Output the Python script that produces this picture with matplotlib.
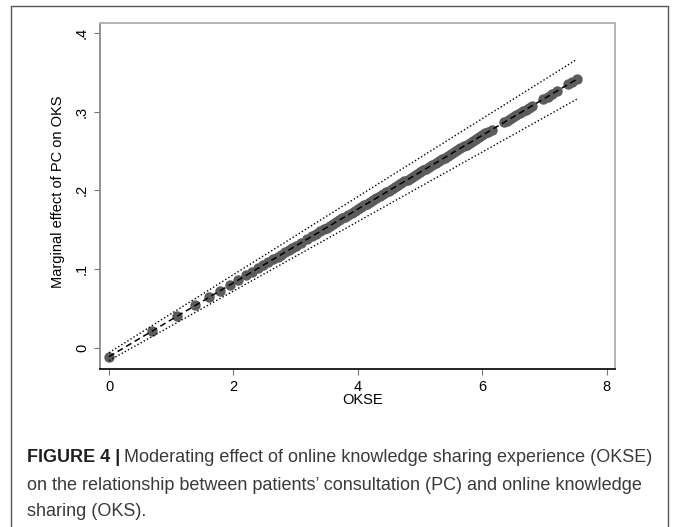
import numpy as np
import matplotlib
matplotlib.use('Agg')
import matplotlib.pyplot as plt
from matplotlib.patches import Rectangle

# OKSE values where the margins were evaluated
okse = [0.00, 0.69, 1.10, 1.39, 1.61, 1.79, 1.95, 2.08, 2.20, 2.30,
        2.40, 2.48, 2.56, 2.64, 2.71, 2.77, 2.83, 2.89, 2.94, 3.00,
        3.09, 3.18, 3.26, 3.33,
        3.40, 3.45, 3.50, 3.55, 3.60, 3.65, 3.70, 3.75, 3.80, 3.85,
        3.90, 3.95, 4.00, 4.05, 4.10, 4.15, 4.20, 4.25, 4.30, 4.35,
        4.40, 4.45, 4.50, 4.55, 4.60, 4.65, 4.70, 4.75, 4.80, 4.85,
        4.90, 4.95, 5.00, 5.05, 5.10, 5.15, 5.20, 5.25, 5.30, 5.35,
        5.40, 5.45, 5.50, 5.55, 5.60, 5.65, 5.70, 5.75, 5.80, 5.85,
        5.90, 5.95, 6.00, 6.05, 6.10, 6.15,
        6.35, 6.40, 6.45, 6.50, 6.55, 6.60, 6.65, 6.70, 6.75, 6.80,
        6.98, 7.05, 7.12, 7.20, 7.38, 7.45, 7.52]
# marginal effect of PC on OKS
margin = [-0.0110, 0.0213, 0.0405, 0.0541, 0.0643, 0.0728, 0.0803, 0.0863, 0.0920, 0.0966,
          0.1013, 0.1051, 0.1088, 0.1126, 0.1158, 0.1186, 0.1214, 0.1243, 0.1266, 0.1294,
          0.1336, 0.1378, 0.1416, 0.1448,
          0.1481, 0.1505, 0.1528, 0.1552, 0.1575, 0.1599, 0.1622, 0.1645, 0.1668, 0.1692,
          0.1715, 0.1739, 0.1762, 0.1786, 0.1809, 0.1833, 0.1856, 0.1879, 0.1902, 0.1926,
          0.1949, 0.1973, 0.1996, 0.2020, 0.2043, 0.2067, 0.2090, 0.2113, 0.2136, 0.2160,
          0.2183, 0.2207, 0.2230, 0.2254, 0.2277, 0.2301, 0.2324, 0.2347, 0.2370, 0.2394,
          0.2417, 0.2441, 0.2464, 0.2488, 0.2511, 0.2535, 0.2558, 0.2581, 0.2604, 0.2628,
          0.2651, 0.2675, 0.2698, 0.2722, 0.2745, 0.2768,
          0.2862, 0.2886, 0.2909, 0.2932, 0.2955, 0.2979, 0.3002, 0.3026, 0.3049, 0.3072,
          0.3157, 0.3189, 0.3222, 0.3260, 0.3344, 0.3377, 0.3409]
ci_upper = [-0.0060, 0.0282, 0.0485, 0.0629, 0.0736, 0.0826, 0.0906, 0.0969, 0.1029, 0.1078,
            0.1128, 0.1168, 0.1207, 0.1247, 0.1281, 0.1311, 0.1340, 0.1371, 0.1395, 0.1425,
            0.1469, 0.1514, 0.1554, 0.1588,
            0.1623, 0.1648, 0.1673, 0.1698, 0.1722, 0.1747, 0.1772, 0.1797, 0.1821, 0.1846,
            0.1870, 0.1895, 0.1920, 0.1945, 0.1970, 0.1995, 0.2019, 0.2044, 0.2068, 0.2093,
            0.2118, 0.2143, 0.2168, 0.2193, 0.2217, 0.2242, 0.2267, 0.2292, 0.2316, 0.2341,
            0.2365, 0.2390, 0.2415, 0.2440, 0.2465, 0.2490, 0.2514, 0.2539, 0.2563, 0.2588,
            0.2613, 0.2638, 0.2663, 0.2688, 0.2712, 0.2737, 0.2762, 0.2787, 0.2811, 0.2836,
            0.2860, 0.2885, 0.2910, 0.2935, 0.2960, 0.2984,
            0.3083, 0.3108, 0.3133, 0.3158, 0.3182, 0.3207, 0.3232, 0.3257, 0.3281, 0.3306,
            0.3395, 0.3429, 0.3464, 0.3504, 0.3593, 0.3628, 0.3662]
ci_lower = [-0.0160, 0.0144, 0.0325, 0.0453, 0.0550, 0.0630, 0.0700, 0.0757, 0.0811, 0.0854,
            0.0898, 0.0934, 0.0969, 0.1005, 0.1035, 0.1061, 0.1088, 0.1115, 0.1137, 0.1163,
            0.1203, 0.1242, 0.1278, 0.1308,
            0.1339, 0.1361, 0.1383, 0.1406, 0.1428, 0.1450, 0.1472, 0.1494, 0.1515, 0.1538,
            0.1560, 0.1582, 0.1604, 0.1626, 0.1648, 0.1671, 0.1693, 0.1715, 0.1736, 0.1758,
            0.1780, 0.1802, 0.1824, 0.1847, 0.1869, 0.1891, 0.1913, 0.1935, 0.1956, 0.1979,
            0.2001, 0.2023, 0.2045, 0.2067, 0.2089, 0.2112, 0.2134, 0.2156, 0.2177, 0.2199,
            0.2221, 0.2243, 0.2265, 0.2288, 0.2310, 0.2332, 0.2354, 0.2376, 0.2397, 0.2420,
            0.2442, 0.2464, 0.2486, 0.2508, 0.2530, 0.2552,
            0.2641, 0.2663, 0.2685, 0.2707, 0.2728, 0.2750, 0.2772, 0.2795, 0.2817, 0.2838,
            0.2919, 0.2949, 0.2980, 0.3016, 0.3095, 0.3126, 0.3156]

xticks = [0, 2, 4, 6, 8]
yticks = [0, 0.1, 0.2, 0.3, 0.4]
ytick_labels = ['0', '.1', '.2', '.3', '.4']

caption = ['Moderating effect of online knowledge sharing experience (OKSE)',
           'on the relationship between patients\u2019 consultation (PC) and online knowledge',
           'sharing (OKS).']

plt.rcParams['font.family'] = ['Liberation Sans', 'DejaVu Sans']

W, H = 673, 527
fig = plt.figure(figsize=(W/100, H/100), dpi=100)
ax = fig.add_axes([100/W, 1-369/H, 515/W, 346/H])

# markers underneath, dashed line on top
ax.plot(okse, margin, ls='none', marker='o', ms=6.5, mfc='#5c5c5c', mec='#5c5c5c', zorder=2)
ax.plot(okse, margin, color='k', lw=1.1, ls=(0, (4, 2.5)), zorder=3)
ax.plot(okse, ci_upper, color='k', lw=1.0, ls=(0, (1, 1.6)), zorder=3)
ax.plot(okse, ci_lower, color='k', lw=1.0, ls=(0, (1, 1.6)), zorder=3)

ax.set_xlim(-0.145, 8.135)
ax.set_ylim(-0.0267, 0.4124)
ax.set_xticks(xticks)
ax.set_xticklabels([str(v) for v in xticks])
ax.set_yticks(yticks)
ax.set_yticklabels(ytick_labels, rotation=90, va='center')
ax.tick_params(axis='both', length=4, width=0.8, color='#777777', labelsize=10.5, labelcolor='black')
ax.tick_params(axis='x', pad=4)
ax.tick_params(axis='y', pad=4)

ax.spines['left'].set_color('#808080')
ax.spines['left'].set_linewidth(1.2)
ax.spines['bottom'].set_color('black')
ax.spines['bottom'].set_linewidth(1.2)
for s in ['top', 'right']:
    ax.spines[s].set_color('#b4b4b4')
    ax.spines[s].set_linewidth(1.4)

ax.set_xlabel('OKSE', fontsize=10.5, labelpad=0)
ax.xaxis.set_label_coords((363-100)/515, -(393-369)/346)
ax.set_ylabel('Marginal effect of PC on OKS', fontsize=10.5)
ax.yaxis.set_label_coords(-(100-65)/515, (369-192)/346)

# outer frame of the figure panel
fig.patches.append(Rectangle((11/W, -0.05), (668-11)/W, 1.05-6/H, transform=fig.transFigure,
                             fill=False, ec='#555555', lw=1.0, clip_on=False))

# caption with bold label
r = fig.canvas.get_renderer()
ys = [1-457/H, 1-485/H, 1-512/H]
fs = 13
t1 = fig.text(27/W, ys[0], 'FIGURE 4 |', fontsize=fs, fontweight='bold', color='#231f20', va='center')
bb = t1.get_window_extent(renderer=r)
fig.text((bb.x1+4)/W, ys[0], caption[0], fontsize=fs, color='#3a3a3a', va='center')
fig.text(27/W, ys[1], caption[1], fontsize=fs, color='#3a3a3a', va='center')
fig.text(27/W, ys[2], caption[2], fontsize=fs, color='#3a3a3a', va='center')

fig.savefig('out.png', dpi=100)
